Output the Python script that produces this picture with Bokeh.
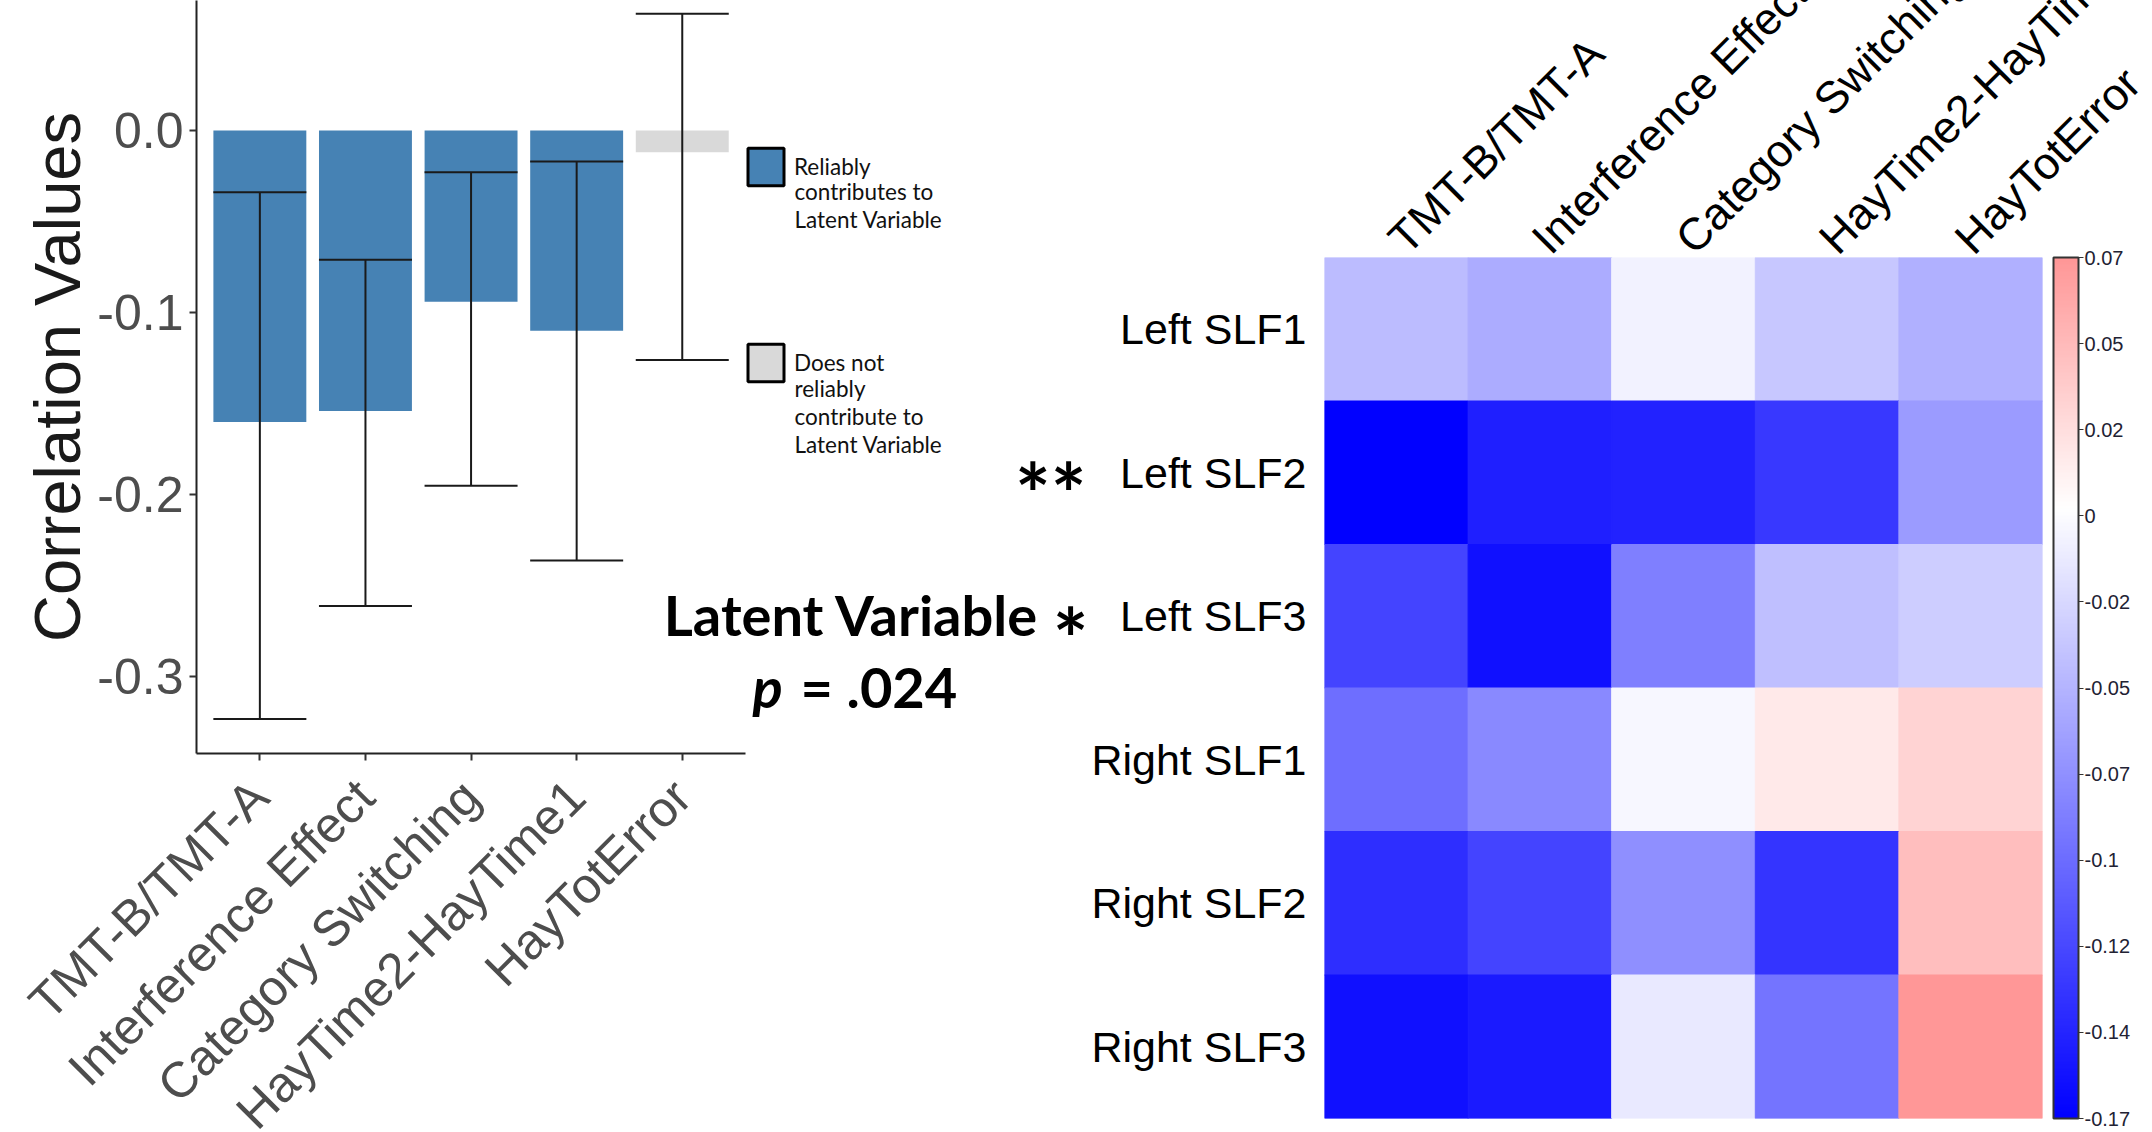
from math import pi, nan
from bokeh.plotting import figure
from bokeh.models import (ColumnDataSource, FactorRange, Range1d, FixedTicker, PrintfTickFormatter,
                          Whisker, TeeHead, Label, Legend, LegendItem, LinearColorMapper, ColorBar,
                          AllLabels)
from bokeh.layouts import row, column
from bokeh.embed import file_html
from bokeh.resources import INLINE

# ---------------- data: bar chart (latent variable loadings) ----------------
measures = ["TMT-B/TMT-A", "Interference Effect", "Category Switching", "HayTime2-HayTime1", "HayTotError"]
correlations = [-0.160, -0.154, -0.094, -0.110, -0.012]
ci_upper = [-0.034, -0.071, -0.023, -0.017, 0.064]
ci_lower = [-0.323, -0.261, -0.195, -0.236, -0.126]
reliable = [True, True, True, True, False]
y_ticks = [0.0, -0.1, -0.2, -0.3]
legend_reliable = ["Reliably", "contributes to", "Latent Variable"]
legend_unreliable = ["Does not", "reliably", "contribute to", "Latent Variable"]

# ---------------- data: heatmap ----------------
tracts = ["Left SLF1", "Left SLF2", "Left SLF3", "Right SLF1", "Right SLF2", "Right SLF3"]
left_slf1 = [-0.044, -0.056, -0.009, -0.038, -0.053]
left_slf2 = [-0.170, -0.150, -0.148, -0.133, -0.067]
left_slf3 = [-0.125, -0.160, -0.085, -0.042, -0.034]
right_slf1 = [-0.097, -0.079, -0.005, 0.015, 0.029]
right_slf2 = [-0.139, -0.125, -0.075, -0.135, 0.043]
right_slf3 = [-0.160, -0.153, -0.015, -0.093, 0.070]
heat_rows = [left_slf1, left_slf2, left_slf3, right_slf1, right_slf2, right_slf3]
cbar_ticks = [0.07, 0.046, 0.022, -0.002, -0.026, -0.05, -0.074, -0.098, -0.122, -0.146, -0.17]
cbar_labels = ["0.07", "0.05", "0.02", "0", "-0.02", "-0.05", "-0.07", "-0.1", "-0.12", "-0.14", "-0.17"]
cmin, cmax, cscale = -0.17, 0.07, 0.17

BLUE = "#4682B4"
GREY = "#D9D9D9"
INK = "#1a1a1a"
SANS = "Liberation Sans"
HUM = "Lato"

# ---------------- left: bar chart ----------------
positions = list(range(1, len(measures) + 1))
src = ColumnDataSource(dict(pos=positions, corr=correlations, hi=ci_upper, lo=ci_lower,
                            color=[BLUE if r else GREY for r in reliable]))

p1 = figure(width=1088, height=1200,
            x_range=Range1d(0.4, 8.847), y_range=Range1d(-0.342, 0.0713),
            output_backend="svg", toolbar_location=None,
            min_border_left=196, min_border_right=0, min_border_top=0, min_border_bottom=447)
p1.margin = (0, 0, -70, 0)
p1.outline_line_color = None
p1.xgrid.visible = False
p1.ygrid.visible = False
p1.background_fill_color = "white"

p1.vbar(x="pos", top="corr", bottom=0, width=0.88, fill_color="color", line_color=None, source=src)

whisk = Whisker(source=src, base="pos", upper="hi", lower="lo", line_color=INK, line_width=2,
                upper_head=TeeHead(size=93, line_color=INK, line_width=2),
                lower_head=TeeHead(size=93, line_color=INK, line_width=2), level="annotation")
p1.add_layout(whisk)

yax = p1.yaxis[0]
yax.ticker = FixedTicker(ticks=y_ticks)
yax.formatter = PrintfTickFormatter(format="%.1f")
yax.axis_label = "Correlation Values"
yax.axis_label_text_font = SANS
yax.axis_label_text_font_size = "65px"
yax.axis_label_text_font_style = "normal"
yax.axis_label_text_color = INK
yax.axis_label_standoff = 0
xax = p1.xaxis[0]
xax.ticker = FixedTicker(ticks=positions)
xax.major_label_overrides = {p: m for p, m in zip(positions, measures)}
xax.bounds = (positions[0] - 0.6, positions[-1] + 0.6)
for ax in (xax, yax):
    ax.major_label_text_font = SANS
    ax.major_label_text_font_size = "50px"
    ax.major_label_text_color = "#4D4D4D"
    ax.major_tick_out = 7
    ax.major_tick_in = 0
    ax.minor_tick_line_color = None
    ax.axis_line_color = "#222222"
    ax.axis_line_width = 2
    ax.major_tick_line_color = "#333333"
    ax.major_tick_line_width = 2
    ax.major_label_standoff = 6
xax.major_label_orientation = pi / 4
xax.major_label_standoff = 28

# legend (legend-only swatches, not drawn in the plot area)
sw_blue = p1.vbar(x=[nan], top=[nan], width=0.5, fill_color=BLUE, line_color="black", line_width=3)
sw_grey = p1.vbar(x=[nan], top=[nan], width=0.5, fill_color=GREY, line_color="black", line_width=3)
legend = Legend(items=[LegendItem(label=legend_reliable[0], renderers=[sw_blue]),
                       LegendItem(label=legend_unreliable[0], renderers=[sw_grey])],
                location=(547, 367), glyph_width=45, glyph_height=47, label_standoff=6,
                label_text_font=HUM, label_text_font_size="22.5px", label_text_color="#111111",
                spacing=149, padding=0, margin=0, border_line_color=None, background_fill_alpha=0)
p1.add_layout(legend)

def note(x, y, text, size="56px", style="bold", align="left", color="black"):
    p1.add_layout(Label(x=x, y=y, x_units="screen", y_units="screen", text=text,
                        text_align=align, text_baseline="alphabetic", text_font=HUM,
                        text_font_style=style, text_font_size=size, text_color=color))

# continuation lines of the two legend entries
for i, line in enumerate(legend_reliable[1:]):
    note(598, 562 - 28 * i, line, size="22.5px", style="normal", color="#111111")
for i, line in enumerate(legend_unreliable[1:]):
    note(598, 365 - 28 * i, line, size="22.5px", style="normal", color="#111111")

note(655, 139, "Latent Variable", align="center")
note(556, 67, "p", style="bold italic")
note(604, 67, "= .024")
note(890, 261, "**", size="84px", align="right")
note(874, 116, "*", size="84px", align="center")

# ---------------- right: heatmap ----------------
def mix(v):
    if v <= 0:
        c = round(255 * (1 + v / cscale))
        return "#%02x%02xff" % (c, c)
    c = round(255 * (1 - v / cscale))
    return "#ff%02x%02x" % (c, c)

n_pal = 240
palette = [mix(cmin + (cmax - cmin) * (i + 0.5) / n_pal) for i in range(n_pal)]
mapper = LinearColorMapper(palette=palette, low=cmin, high=cmax)

hx, hy, hv = [], [], []
for tract, vals in zip(tracts, heat_rows):
    for m, v in zip(measures, vals):
        hx.append(m)
        hy.append(tract)
        hv.append(v)
hsrc = ColumnDataSource(dict(measure=hx, tract=hy, value=hv))

p2 = figure(width=1062, height=1230,
            x_range=FactorRange(*measures), y_range=FactorRange(*reversed(tracts)),
            x_axis_location="above", output_backend="svg", toolbar_location=None,
            min_border_left=234, min_border_right=108, min_border_top=357, min_border_bottom=12)
p2.margin = (-100, 0, 0, 0)
p2.border_fill_color = None
p2.background_fill_color = None
p2.outline_line_color = None
p2.xgrid.visible = False
p2.ygrid.visible = False

p2.rect(x="measure", y="tract", width=1, height=1, source=hsrc,
        fill_color={"field": "value", "transform": mapper},
        line_color={"field": "value", "transform": mapper}, line_width=1)

for ax in (p2.xaxis[0], p2.yaxis[0]):
    ax.major_label_text_font = SANS
    ax.major_label_text_color = "black"
    ax.axis_line_color = None
    ax.major_tick_line_color = None
    ax.minor_tick_line_color = None
    ax.major_tick_out = 0
    ax.major_tick_in = 0
p2.yaxis[0].major_label_text_font_size = "43px"
p2.xaxis[0].major_label_text_font_size = "45px"
p2.xaxis[0].major_label_orientation = pi / 4
p2.xaxis[0].major_label_standoff = 12
p2.yaxis[0].major_label_standoff = 18

cb = ColorBar(color_mapper=mapper, ticker=FixedTicker(ticks=cbar_ticks),
              major_label_overrides=dict(zip(cbar_ticks, cbar_labels)),
              major_label_policy=AllLabels(), location=(11, 0),
              width=25, height=861, padding=0, margin=0, bar_line_color="#333333", bar_line_width=2,
              major_tick_line_color="#333333", major_tick_out=5, major_tick_in=0,
              minor_tick_line_color=None,
              major_label_text_font=SANS, major_label_text_font_size="20px",
              major_label_text_color="#222233", label_standoff=1,
              background_fill_alpha=0, border_line_color=None)
p2.add_layout(cb, "right")

layout = row(column(p1), column(p2), spacing=0, styles={"overflow": "hidden"})
open("out.html", "w").write(file_html(layout, INLINE))
